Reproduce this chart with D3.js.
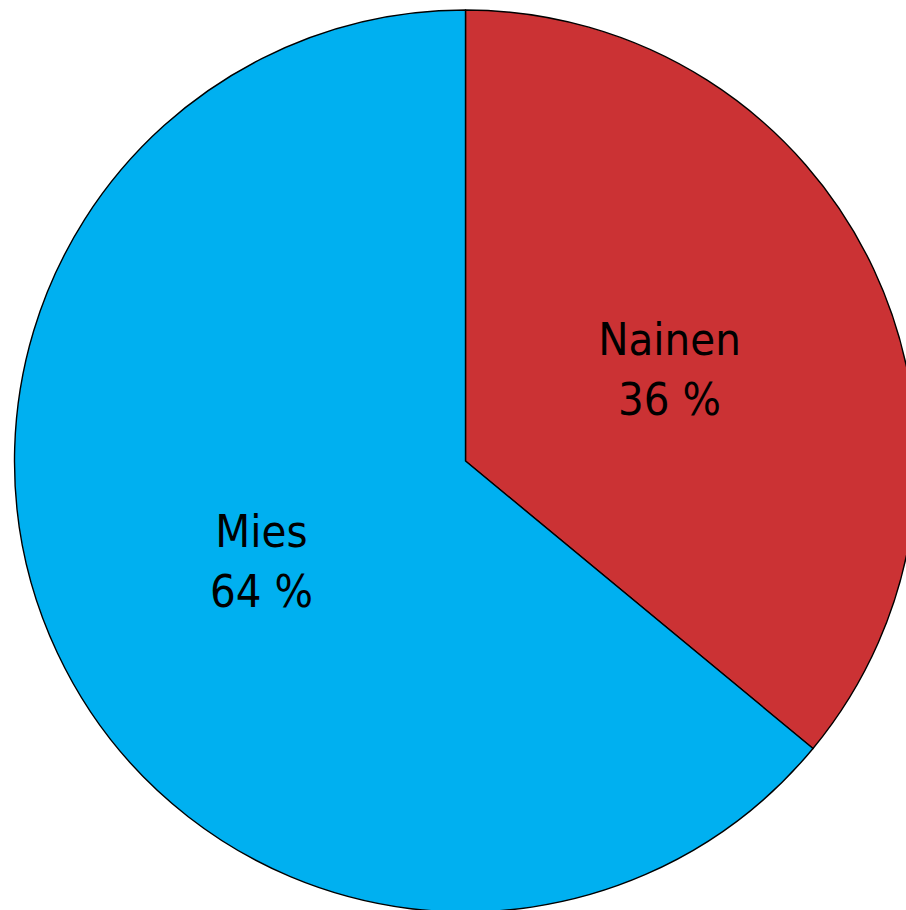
<!DOCTYPE html>
<html>
<head>
<meta charset="utf-8">
<script src="https://cdn.jsdelivr.net/npm/d3@7"></script>
<style>
  html, body { margin: 0; padding: 0; background: #fff; }
  svg { display: block; }
  text { font-family: "DejaVu Sans Condensed", "DejaVu Sans", sans-serif; font-stretch: condensed; }
</style>
</head>
<body>
<svg id="chart" width="906" height="910"></svg>
<script>
// pie data, clockwise from 12 o'clock
var labels = ["Nainen", "Mies"];
var shares = [36, 64];
var colors = ["#cb3234", "#00b0f0"];

var svg = d3.select("#chart");
var cx = 465.5, cy = 461, radius = 451;

var pie = d3.pie().sort(null).value(function(d) { return d; });
var arc = d3.arc().innerRadius(0).outerRadius(radius);

var g = svg.append("g").attr("transform", "translate(" + cx + "," + cy + ")");
var arcs = pie(shares);

g.selectAll("path")
  .data(arcs)
  .enter().append("path")
  .attr("d", arc)
  .attr("fill", function(d, i) { return colors[i]; })
  .attr("stroke", "#000")
  .attr("stroke-width", 1.4)
  .attr("stroke-linejoin", "round");

var lbl = g.selectAll("text.lbl")
  .data(arcs)
  .enter().append("text")
  .attr("class", "lbl")
  .attr("text-anchor", "middle")
  .attr("font-size", 45)
  .attr("fill", "#000")
  .attr("transform", function(d) {
    var c = arc.centroid(d);
    return "translate(" + c[0] + "," + c[1] + ")";
  });

lbl.append("tspan").attr("x", 0).attr("y", -10).text(function(d, i) { return labels[i]; });
lbl.append("tspan").attr("x", 0).attr("y", 50).text(function(d, i) { return shares[i] + " %"; });
</script>
</body>
</html>
